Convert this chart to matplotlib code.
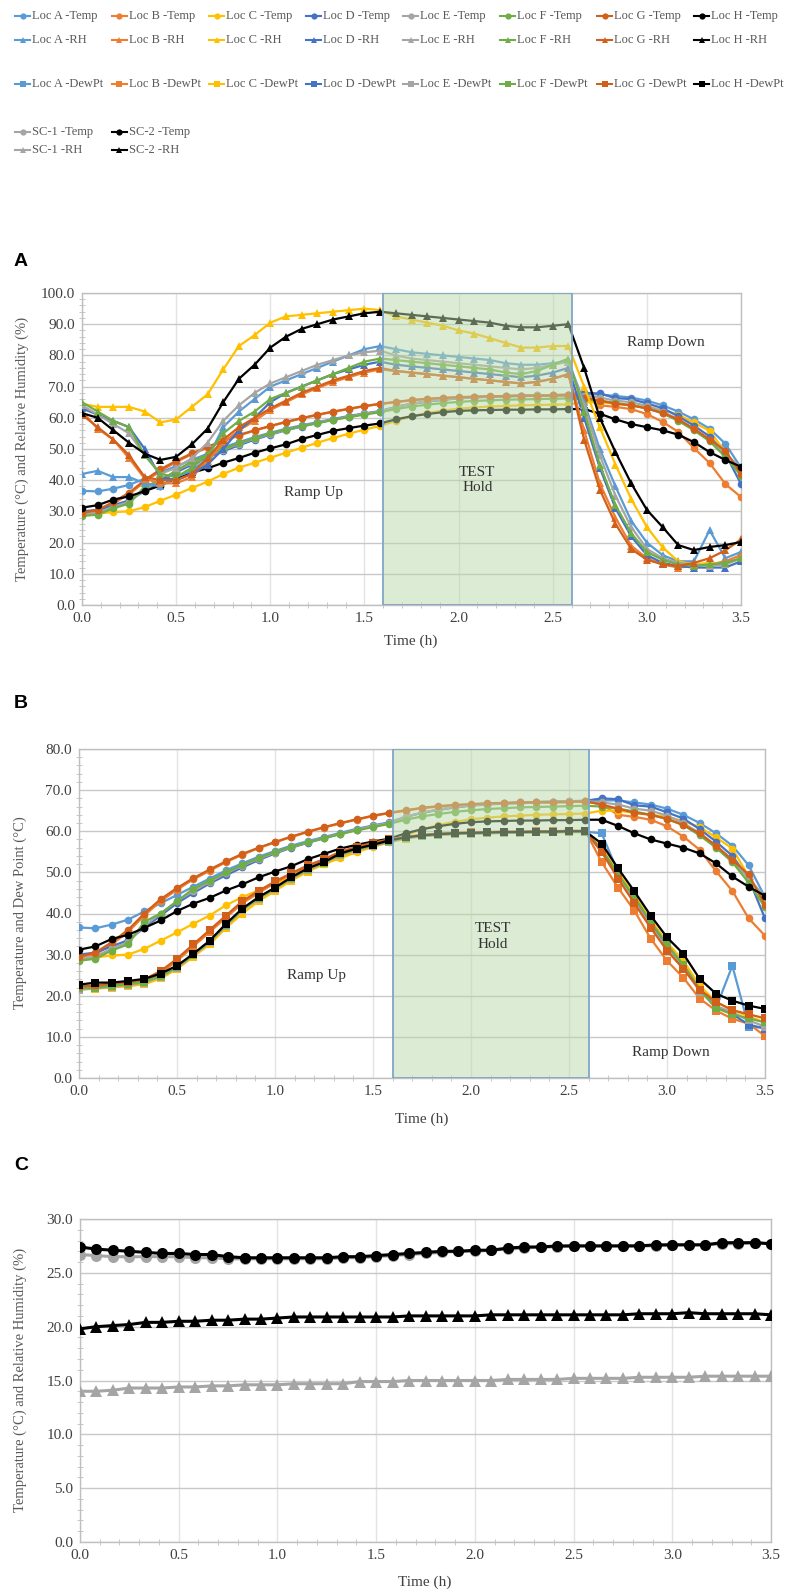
import matplotlib.pyplot as plt
import numpy as np
from matplotlib.lines import Line2D
from matplotlib.ticker import MultipleLocator, FormatStrFormatter

plt.rcParams['font.family'] = ['Liberation Serif', 'DejaVu Serif']

W, H = 786, 1595

# time axis: one reading every 5 minutes
time_h = np.arange(43) / 12

loc_names = ['Loc A', 'Loc B', 'Loc C', 'Loc D', 'Loc E', 'Loc F', 'Loc G', 'Loc H']
loc_colors = ['#5B9BD5', '#ED7D31', '#FFC000', '#4472C4', '#A5A5A5', '#70AD47', '#D2601A', '#000000']

# ---- temperatures (deg C) ----
temp_a = [36.6, 36.4, 37.3, 38.5, 40.5, 42.5, 44.5, 46.5, 48.5, 50.5, 52.2, 53.8, 55.2, 56.5, 57.6, 58.6, 59.6, 60.6, 61.4, 62.2,
          63.5, 64.5, 65.2, 65.8, 66.2, 66.5, 66.7, 66.8, 67.0, 67.0, 67.1, 67.2,
          67.5, 67.5, 67.0, 66.5, 65.5, 64.0, 62.0, 59.5, 56.5, 51.7, 44.0]
temp_b = [29.5, 30.0, 32.5, 35.5, 39.5, 43.0, 45.8, 48.3, 50.4, 52.5, 54.3, 55.9, 57.3, 58.6, 59.8, 60.9, 61.9, 62.8, 63.7, 64.4,
          65.0, 65.6, 66.0, 66.3, 66.5, 66.7, 66.8, 66.9, 67.0, 67.0, 67.1, 67.2,
          66.5, 64.0, 63.5, 62.8, 61.2, 58.7, 55.5, 50.3, 45.5, 38.8, 34.6]
temp_c = [29.0, 29.3, 29.8, 30.0, 31.4, 33.4, 35.4, 37.5, 39.5, 42.0, 44.0, 45.6, 47.2, 48.8, 50.4, 52.0, 53.5, 54.9, 56.2, 57.4,
          59.0, 60.5, 61.5, 62.3, 62.9, 63.3, 63.6, 63.8, 64.0, 64.1, 64.2, 64.3,
          65.0, 65.0, 64.5, 64.0, 63.5, 62.5, 61.0, 58.5, 55.8, 49.0, 42.7]
temp_d = [30.0, 30.5, 32.0, 33.5, 36.5, 39.5, 42.5, 45.0, 47.3, 49.3, 51.2, 53.0, 54.6, 56.0, 57.2, 58.3, 59.4, 60.4, 61.3, 62.0,
          63.5, 64.5, 65.2, 65.8, 66.3, 66.6, 66.8, 67.0, 67.1, 67.2, 67.3, 67.4,
          68.0, 67.8, 66.3, 66.0, 64.6, 63.1, 60.5, 57.5, 54.0, 48.5, 38.8]
temp_e = [29.0, 29.5, 31.5, 33.0, 37.0, 40.0, 43.0, 45.5, 47.7, 49.8, 51.6, 53.3, 54.8, 56.1, 57.3, 58.4, 59.4, 60.4, 61.3, 62.0,
          63.5, 64.5, 65.3, 65.9, 66.3, 66.6, 66.8, 67.0, 67.1, 67.2, 67.3, 67.4,
          67.0, 66.5, 65.5, 65.0, 63.8, 62.0, 59.5, 56.5, 53.0, 48.5, 44.0]
temp_f = [28.5, 29.0, 31.0, 32.5, 38.0, 40.0, 43.0, 46.0, 48.0, 50.0, 51.8, 53.5, 55.0, 56.2, 57.3, 58.3, 59.3, 60.2, 61.0, 61.8,
          62.8, 63.6, 64.2, 64.7, 65.1, 65.4, 65.6, 65.8, 65.9, 66.0, 66.1, 66.2,
          66.0, 65.5, 64.8, 64.0, 63.0, 61.5, 59.0, 56.0, 52.5, 47.5, 41.5]
temp_g = [29.5, 30.5, 33.0, 36.0, 40.0, 43.5, 46.2, 48.6, 50.7, 52.7, 54.5, 56.0, 57.4, 58.7, 59.9, 61.0, 62.0, 62.9, 63.8, 64.5,
          65.1, 65.7, 66.1, 66.4, 66.6, 66.8, 66.9, 67.0, 67.1, 67.1, 67.2, 67.3,
          66.5, 65.5, 64.5, 64.0, 63.0, 61.5, 59.5, 56.5, 53.0, 49.5, 42.0]
temp_h = [31.2, 32.0, 33.8, 34.8, 36.5, 38.3, 40.6, 42.4, 43.8, 45.6, 47.1, 48.8, 50.2, 51.5, 53.2, 54.5, 55.8, 56.7, 57.5, 58.2,
          59.5, 60.5, 61.2, 61.8, 62.2, 62.4, 62.5, 62.6, 62.6, 62.7, 62.7, 62.8,
          62.8, 61.3, 59.5, 58.0, 57.0, 56.0, 54.6, 52.2, 49.0, 46.5, 44.3]

# ---- relative humidity (%) ----
rh_a = [42, 43, 41, 41, 39, 38, 41, 43, 47, 57, 62, 66, 70, 72, 74, 76, 78, 80, 82, 83,
        82, 81, 80.5, 80, 79.5, 79, 78.5, 77.5, 77, 77, 77.5, 78,
        65, 50, 38, 27, 20, 16, 14, 14, 24, 15, 17]
rh_b = [62, 56.5, 53, 47, 40.5, 39, 39, 41, 46, 52, 56, 59, 62.5, 65, 67.5, 69.5, 71.5, 73, 74.5, 75.5,
        75, 74.5, 74, 73.5, 73, 72.5, 72, 71.5, 71, 71.5, 72.5, 74,
        56, 39, 28, 19, 15, 13, 12, 12.5, 13, 14, 16]
rh_c = [64.5, 63.5, 63.5, 63.5, 62, 58.5, 59.5, 63.5, 67.5, 75.5, 83, 86.5, 90.5, 92.5, 93, 93.5, 94, 94.5, 95, 94.5,
        92.5, 91.5, 90.5, 89.5, 88, 87, 85.5, 84, 82.5, 82.5, 83, 83,
        70, 57, 45, 34, 25, 18.5, 14, 13, 13.5, 13, 15]
rh_d = [63, 61, 59, 57, 50, 41, 40, 42, 45, 50, 56, 60, 65, 68, 70, 72, 74, 75.5, 77, 78,
        77, 76.5, 76, 75.5, 75, 74.5, 74, 73.5, 73, 73.5, 74.5, 76,
        60, 44, 31, 22, 16, 13.5, 12.5, 12, 12, 12, 14]
rh_e = [64, 61, 58, 55, 48, 42, 44, 47, 52, 59, 64, 68, 71, 73, 75, 77, 78.5, 80, 81, 81.5,
        80, 79, 78.5, 78, 77.5, 77, 76.5, 76, 75.5, 76, 77, 78,
        64, 48, 35, 25, 18, 15, 13.5, 13, 12.5, 13, 15]
rh_f = [65, 62, 59, 57, 48, 42, 41, 44, 48, 55, 59, 62, 66, 68, 70, 72, 74, 76, 78, 79,
        78.5, 78, 77.5, 77, 76.5, 76, 75.5, 74.5, 74, 75, 77, 79,
        62, 45, 32, 23, 17, 14.5, 13, 12.5, 13, 13.5, 15]
rh_g = [61, 57, 53, 48, 41, 40, 40, 42, 47, 53, 57, 60, 63, 65.5, 68, 70, 72, 73.5, 75, 76,
        75, 74.5, 74, 73.5, 73, 72.5, 72, 71.5, 71, 71.5, 72.5, 74,
        53, 37, 26, 18, 14.5, 13, 12.5, 13.5, 15, 17.5, 21]
rh_h = [61.5, 60, 56, 52, 48.5, 46.5, 47.5, 51.5, 56.5, 65, 72.5, 77, 82.5, 86, 88.5, 90, 91.5, 92.5, 93.5, 94,
        93.5, 93, 92.5, 92, 91.5, 91, 90.5, 89.5, 89, 89, 89.5, 90,
        76, 60, 49, 39, 30.5, 25, 19.2, 17.6, 18.6, 19.2, 20.2]

# ---- dew point (deg C) ----
dew_a = [22.0, 22.2, 22.5, 23.0, 23.5, 25.0, 27.0, 29.8, 33.0, 37.0, 40.8, 43.7, 46.0, 48.5, 50.7, 52.3, 54.3, 55.5, 56.5, 57.5,
         58.3, 58.9, 59.2, 59.4, 59.5, 59.6, 59.7, 59.7, 59.8, 59.8, 59.9, 59.9,
         59.5, 50.0, 43.5, 37.5, 32.0, 27.0, 21.5, 17.0, 27.3, 12.5, 12.2]
dew_b = [22.0, 22.0, 22.5, 23.0, 23.5, 25.5, 28.5, 32.0, 35.5, 39.0, 42.5, 45.0, 47.5, 49.5, 51.5, 53.0, 55.0, 56.0, 57.0, 58.0,
         58.6, 59.1, 59.4, 59.6, 59.7, 59.8, 59.9, 59.9, 60.0, 60.0, 60.1, 60.1,
         52.5, 46.3, 40.7, 33.9, 28.5, 24.4, 19.3, 16.4, 14.4, 13.2, 10.2]
dew_c = [21.5, 21.7, 22.0, 22.3, 22.8, 24.2, 26.5, 29.5, 32.5, 36.5, 40.0, 43.0, 45.5, 48.0, 50.2, 52.0, 53.8, 55.2, 56.3, 57.3,
         58.2, 58.8, 59.1, 59.3, 59.4, 59.5, 59.6, 59.6, 59.7, 59.7, 59.8, 59.8,
         56.0, 50.0, 44.5, 38.5, 33.0, 28.5, 22.5, 18.5, 16.5, 15.0, 13.5]
dew_d = [21.8, 22.0, 22.3, 22.8, 23.3, 24.8, 27.0, 30.0, 33.2, 37.2, 41.0, 43.8, 46.2, 48.6, 50.8, 52.4, 54.4, 55.6, 56.6, 57.6,
         58.4, 58.9, 59.2, 59.4, 59.5, 59.6, 59.7, 59.7, 59.8, 59.8, 59.9, 59.9,
         55.5, 49.5, 43.5, 37.5, 32.0, 27.5, 21.5, 17.5, 15.5, 13.0, 12.0]
dew_e = [21.5, 21.8, 22.2, 22.6, 23.2, 24.6, 26.8, 29.8, 33.0, 37.0, 40.8, 43.6, 46.0, 48.5, 50.6, 52.2, 54.2, 55.4, 56.4, 57.4,
         58.3, 58.8, 59.1, 59.3, 59.4, 59.5, 59.6, 59.6, 59.7, 59.7, 59.8, 59.8,
         55.0, 49.0, 43.0, 37.0, 31.5, 27.0, 21.0, 17.5, 16.0, 14.0, 12.5]
dew_f = [21.8, 22.0, 22.4, 22.8, 23.4, 24.8, 27.0, 30.0, 33.2, 37.2, 41.0, 43.8, 46.2, 48.6, 50.8, 52.4, 54.4, 55.6, 56.6, 57.6,
         58.4, 58.9, 59.2, 59.4, 59.5, 59.6, 59.7, 59.7, 59.8, 59.8, 59.9, 59.9,
         55.5, 49.5, 44.0, 38.0, 32.5, 27.5, 21.5, 17.0, 15.5, 14.5, 13.5]
dew_g = [22.3, 22.5, 23.0, 23.3, 24.0, 26.0, 29.0, 32.5, 36.0, 39.5, 43.0, 45.5, 47.8, 49.8, 51.7, 53.2, 55.0, 56.2, 57.2, 58.0,
         58.6, 59.1, 59.4, 59.6, 59.7, 59.8, 59.9, 59.9, 60.0, 60.0, 60.1, 60.1,
         55.0, 48.5, 42.5, 36.5, 31.0, 26.5, 21.5, 18.5, 16.5, 15.5, 14.5]
dew_h = [22.7, 23.2, 23.2, 23.6, 24.1, 25.4, 27.3, 30.2, 33.4, 37.5, 41.2, 44.0, 46.3, 48.8, 51.0, 52.5, 54.6, 55.8, 56.7, 57.8,
         58.5, 59.0, 59.3, 59.5, 59.6, 59.7, 59.8, 59.8, 59.9, 59.9, 60.0, 60.0,
         57.0, 51.0, 45.4, 39.5, 34.2, 30.2, 24.1, 20.5, 18.8, 17.6, 16.8]

# ---- SC-1 / SC-2 ----
sc1_temp = [26.7, 26.6, 26.5, 26.5, 26.5, 26.5, 26.5, 26.4, 26.4, 26.3, 26.3, 26.3, 26.3, 26.3, 26.3, 26.3, 26.4, 26.4, 26.5, 26.6,
            26.7, 26.8, 26.9, 27.0, 27.0, 27.1, 27.2, 27.3, 27.4, 27.4, 27.5, 27.5, 27.5, 27.5, 27.5, 27.5, 27.6, 27.6, 27.6,
            27.7, 27.7, 27.8, 27.7]
sc2_temp = [27.4, 27.2, 27.1, 27.0, 26.9, 26.8, 26.8, 26.7, 26.7, 26.5, 26.4, 26.4, 26.4, 26.4, 26.4, 26.4, 26.5, 26.5, 26.6, 26.7,
            26.8, 26.9, 27.0, 27.0, 27.1, 27.1, 27.3, 27.4, 27.4, 27.5, 27.5, 27.5, 27.5, 27.5, 27.5, 27.6, 27.6, 27.6, 27.6,
            27.8, 27.8, 27.8, 27.7]
sc1_rh = [14.0, 14.0, 14.1, 14.3, 14.3, 14.3, 14.4, 14.4, 14.5, 14.5, 14.6, 14.6, 14.6, 14.7, 14.7, 14.7, 14.7, 14.9, 14.9, 14.9,
          15.0, 15.0, 15.0, 15.0, 15.0, 15.0, 15.1, 15.1, 15.1, 15.1, 15.2, 15.2, 15.2, 15.2, 15.3, 15.3, 15.3, 15.3, 15.4,
          15.4, 15.4, 15.4, 15.4]
sc2_rh = [19.8, 20.0, 20.1, 20.2, 20.4, 20.4, 20.5, 20.5, 20.6, 20.6, 20.7, 20.7, 20.8, 20.9, 20.9, 20.9, 20.9, 20.9, 20.9, 20.9,
          21.0, 21.0, 21.0, 21.0, 21.0, 21.1, 21.1, 21.1, 21.1, 21.1, 21.1, 21.1, 21.1, 21.1, 21.2, 21.2, 21.2, 21.3, 21.2,
          21.2, 21.2, 21.2, 21.1]

temps = [temp_a, temp_b, temp_c, temp_d, temp_e, temp_f, temp_g, temp_h]
rhs = [rh_a, rh_b, rh_c, rh_d, rh_e, rh_f, rh_g, rh_h]
dews = [dew_a, dew_b, dew_c, dew_d, dew_e, dew_f, dew_g, dew_h]

hold_start, hold_end = 1.6, 2.6

text_col = '#404040'


fig = plt.figure(figsize=(W / 100, H / 100), dpi=100)


def px_axes(left, top, right, bottom):
    return fig.add_axes([left / W, 1 - bottom / H, (right - left) / W, (bottom - top) / H])


def style_axes(ax, ymax, ymajor, yminor):
    ax.set_xlim(0, 3.5)
    ax.set_ylim(0, ymax)
    ax.xaxis.set_major_locator(MultipleLocator(0.5))
    ax.xaxis.set_minor_locator(MultipleLocator(0.1))
    ax.yaxis.set_major_locator(MultipleLocator(ymajor))
    ax.yaxis.set_minor_locator(MultipleLocator(yminor))
    ax.xaxis.set_major_formatter(FormatStrFormatter('%.1f'))
    ax.yaxis.set_major_formatter(FormatStrFormatter('%.1f'))
    ax.grid(True, which='major', axis='y', color='#C8C8C8', lw=1.0)
    ax.grid(True, which='major', axis='x', color='#E3E3E3', lw=1.0)
    ax.set_axisbelow(True)
    for s in ax.spines.values():
        s.set_color('#BFBFBF')
        s.set_linewidth(1.0)
    ax.tick_params(which='major', length=0, labelsize=11, labelcolor=text_col, pad=5)
    ax.tick_params(which='minor', direction='inout', length=4, color='#BFBFBF')


def hold_box(ax):
    ax.axvspan(hold_start, hold_end, facecolor='#BAD9A8', alpha=0.5, lw=0, zorder=5)
    ax.axvspan(hold_start, hold_end, fill=False, edgecolor='#7FA6C8', lw=1.3, zorder=6)


# ---------------- legends ----------------
def legend_entry(x, y, color, marker, label):
    fx0, fx1, fy = x / W, (x + 15) / W, 1 - y / H
    fig.add_artist(Line2D([fx0, fx1], [fy, fy], transform=fig.transFigure, color=color, lw=1.5))
    fig.add_artist(Line2D([(fx0 + fx1) / 2], [fy], transform=fig.transFigure, color=color,
                          marker=marker, ms=4.5, mew=0))
    fig.text((x + 17) / W, fy, label, fontsize=9, color='#595959', va='center', ha='left')


col_x = [15 + 97 * j for j in range(8)]
for j in range(8):
    legend_entry(col_x[j], 16, loc_colors[j], 'o', loc_names[j] + ' -Temp')
    legend_entry(col_x[j], 40, loc_colors[j], '^', loc_names[j] + ' -RH')
    legend_entry(col_x[j], 84, loc_colors[j], 's', loc_names[j] + ' -DewPt')
legend_entry(col_x[0], 132, '#A5A5A5', 'o', 'SC-1 -Temp')
legend_entry(col_x[1], 132, '#000000', 'o', 'SC-2 -Temp')
legend_entry(col_x[0], 150, '#A5A5A5', '^', 'SC-1 -RH')
legend_entry(col_x[1], 150, '#000000', '^', 'SC-2 -RH')

# ---------------- panel A ----------------
axA = px_axes(82, 293, 741, 605)
style_axes(axA, 100, 10, 2)
for j in range(8):
    axA.plot(time_h, temps[j], color=loc_colors[j], marker='o', ms=5.5, lw=1.6, mew=0, zorder=3)
for j in range(8):
    axA.plot(time_h, rhs[j], color=loc_colors[j], marker='^', ms=6, lw=1.6, mew=0, zorder=3)
hold_box(axA)
axA.text(2.1, 40, 'TEST\nHold', ha='center', va='center', fontsize=11, color='#333333', zorder=7,
         linespacing=1.25)
axA.text(1.23, 36, 'Ramp Up', ha='center', va='center', fontsize=11, color='#333333')
axA.text(3.1, 84, 'Ramp Down', ha='center', va='center', fontsize=11, color='#333333')
fig.text(14 / W, 1 - 262 / H, 'A', fontsize=14, fontweight='bold', family='Liberation Sans', va='center')
fig.text(411 / W, 1 - 641 / H, 'Time (h)', fontsize=11, color=text_col, ha='center', va='center')
fig.text(22 / W, 1 - 449 / H, 'Temperature (°C) and Relative Humidity (%)', fontsize=10.5, color='#595959',
         rotation=90, ha='center', va='center')

# ---------------- panel B ----------------
axB = px_axes(79, 749, 765, 1078)
style_axes(axB, 80, 10, 2)
for j in range(8):
    axB.plot(time_h, temps[j], color=loc_colors[j], marker='o', ms=5.5, lw=1.6, mew=0, zorder=3)
for j in range(8):
    axB.plot(time_h, dews[j], color=loc_colors[j], marker='s', ms=5.5, lw=1.6, mew=0, zorder=3)
hold_box(axB)
axB.text(2.11, 34.4, 'TEST\nHold', ha='center', va='center', fontsize=11, color='#333333', zorder=7,
         linespacing=1.25)
axB.text(1.21, 25, 'Ramp Up', ha='center', va='center', fontsize=11, color='#333333')
axB.text(3.02, 6.1, 'Ramp Down', ha='center', va='center', fontsize=11, color='#333333')
fig.text(14 / W, 1 - 703 / H, 'B', fontsize=14, fontweight='bold', family='Liberation Sans', va='center')
fig.text(422 / W, 1 - 1119 / H, 'Time (h)', fontsize=11, color=text_col, ha='center', va='center')
fig.text(20 / W, 1 - 913 / H, 'Temperature and Dew Point (°C)', fontsize=10.5, color='#595959',
         rotation=90, ha='center', va='center')

# ---------------- panel C ----------------
axC = px_axes(80, 1219, 771, 1542)
style_axes(axC, 30, 5, 1)
axC.plot(time_h, sc1_temp, color='#A5A5A5', marker='o', ms=8, lw=2.2, mew=0, zorder=3)
axC.plot(time_h, sc2_temp, color='#000000', marker='o', ms=8, lw=2.2, mew=0, zorder=3)
axC.plot(time_h, sc1_rh, color='#A5A5A5', marker='^', ms=8.5, lw=2.2, mew=0, zorder=3)
axC.plot(time_h, sc2_rh, color='#000000', marker='^', ms=8.5, lw=2.2, mew=0, zorder=3)
fig.text(14 / W, 1 - 1165 / H, 'C', fontsize=14, fontweight='bold', family='Liberation Sans', va='center')
fig.text(425 / W, 1 - 1582 / H, 'Time (h)', fontsize=11, color=text_col, ha='center', va='center')
fig.text(20 / W, 1 - 1380 / H, 'Temperature (°C) and Relative Humidity (%)', fontsize=10.5, color='#595959',
         rotation=90, ha='center', va='center')

fig.savefig('out.png', dpi=100)
